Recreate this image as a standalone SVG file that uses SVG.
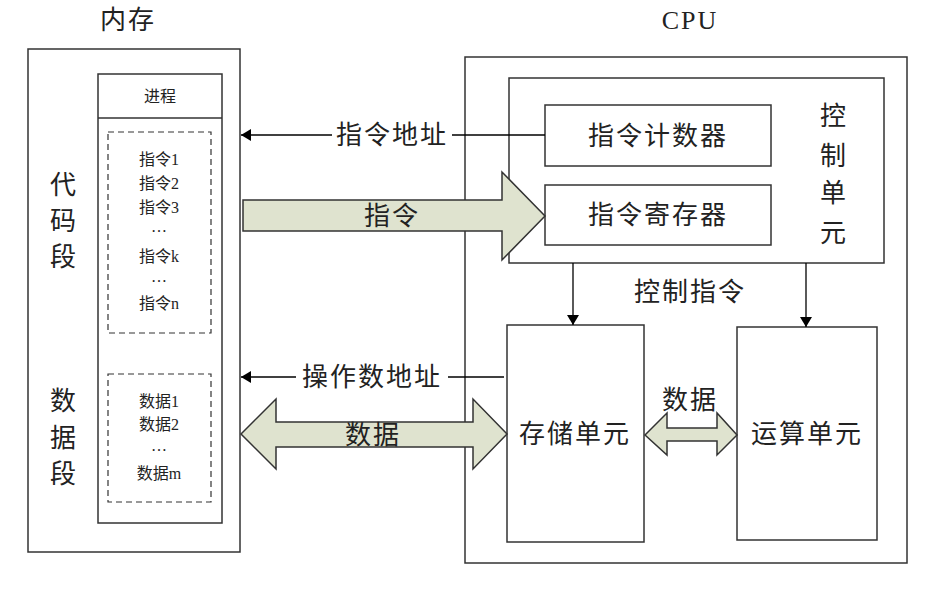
<svg xmlns="http://www.w3.org/2000/svg" width="928" height="591" viewBox="0 0 928 591">
<defs>
<marker id="ah" markerWidth="10" markerHeight="12" refX="10" refY="6" orient="auto" markerUnits="userSpaceOnUse"><path d="M0,0 L10,6 L0,12 Z" fill="#000"/></marker>
<style>
.b{fill:#fff;stroke:#333;stroke-width:1.5}
.d{fill:none;stroke:#333;stroke-width:1.2;stroke-dasharray:6,4}
.l{stroke:#000;stroke-width:1.3;fill:none}
.f{fill:#dfe3cf;stroke:#333;stroke-width:1.5}
text{font-family:"Liberation Serif","Noto Sans CJK SC",serif;fill:#222;text-anchor:middle}
.L{font-size:26px;letter-spacing:2px}
.s{font-size:16px}
</style>
</defs>
<rect width="928" height="591" fill="#fff"/>
<text class="L" x="128" y="29">内存</text>
<text class="L" x="690" y="29">CPU</text>
<g id="memory">
<rect class="b" x="28" y="49" width="212" height="503"/>
<text class="L" x="64" y="194">代</text><text class="L" x="64" y="230">码</text><text class="L" x="64" y="266">段</text>
<text class="L" x="64" y="410">数</text><text class="L" x="64" y="447">据</text><text class="L" x="64" y="483">段</text>
</g>
<g id="process">
<rect class="b" x="98" y="74" width="124" height="449"/>
<line x1="98" y1="118" x2="222" y2="118" stroke="#333" stroke-width="1.5"/>
<text class="s" x="160" y="102">进程</text>
</g>
<g id="code">
<rect class="d" x="108" y="132" width="103" height="201"/>
<text class="s" x="159" y="165">指令1</text><text class="s" x="159" y="189">指令2</text><text class="s" x="159" y="213">指令3</text>
<text class="s" x="159" y="232">…</text><text class="s" x="159" y="262">指令k</text><text class="s" x="159" y="282">…</text><text class="s" x="159" y="309">指令n</text>
</g>
<g id="data">
<rect class="d" x="108" y="374" width="103" height="128"/>
<text class="s" x="159" y="407">数据1</text><text class="s" x="159" y="430">数据2</text><text class="s" x="159" y="451">…</text><text class="s" x="159" y="479">数据m</text>
</g>
<g id="cpu"><rect class="b" x="465" y="57" width="442" height="506"/></g>
<g id="control">
<rect class="b" x="509" y="78" width="375" height="185"/>
<text class="L" x="834" y="125">控</text><text class="L" x="834" y="165">制</text><text class="L" x="834" y="202">单</text><text class="L" x="834" y="242">元</text>
</g>
<g id="pc"><rect class="b" x="545" y="105" width="226" height="61"/><text class="L" x="658" y="145">指令计数器</text></g>
<g id="ir"><rect class="b" x="545" y="185" width="226" height="60"/><text class="L" x="658" y="224">指令寄存器</text></g>
<g id="storage"><rect class="b" x="507" y="325" width="137" height="217"/><text class="L" x="575" y="443">存储单元</text></g>
<g id="alu"><rect class="b" x="737" y="327" width="140" height="213"/><text class="L" x="807" y="443">运算单元</text></g>
<g id="connectors">
<line class="l" x1="545" y1="135" x2="452" y2="135"/><line class="l" x1="332" y1="135" x2="241" y2="135" marker-end="url(#ah)"/>
<text class="L" x="392" y="144">指令地址</text>
<line class="l" x1="504" y1="377" x2="448" y2="377"/><line class="l" x1="296" y1="377" x2="241" y2="377" marker-end="url(#ah)"/>
<text class="L" x="372" y="386">操作数地址</text>
<line class="l" x1="573" y1="263" x2="573" y2="325" marker-end="url(#ah)"/>
<line class="l" x1="806" y1="263" x2="806" y2="327" marker-end="url(#ah)"/>
<text class="L" x="690" y="301">控制指令</text>
<path class="f" d="M243,200 L502,200 L502,172 L545,216 L502,260 L502,231 L243,231 Z"/>
<text class="L" x="392" y="225">指令</text>
<path class="f" d="M241,434 L276,399 L276,422 L473,422 L473,399 L507,434 L473,469 L473,447 L276,447 L276,469 Z"/>
<text class="L" x="373" y="444">数据</text>
<path class="f" d="M645,435 L667,413 L667,428 L717,428 L717,413 L737,435 L717,455 L717,441 L667,441 L667,455 Z"/>
<text class="L" x="690" y="409">数据</text>
</g>
</svg>
